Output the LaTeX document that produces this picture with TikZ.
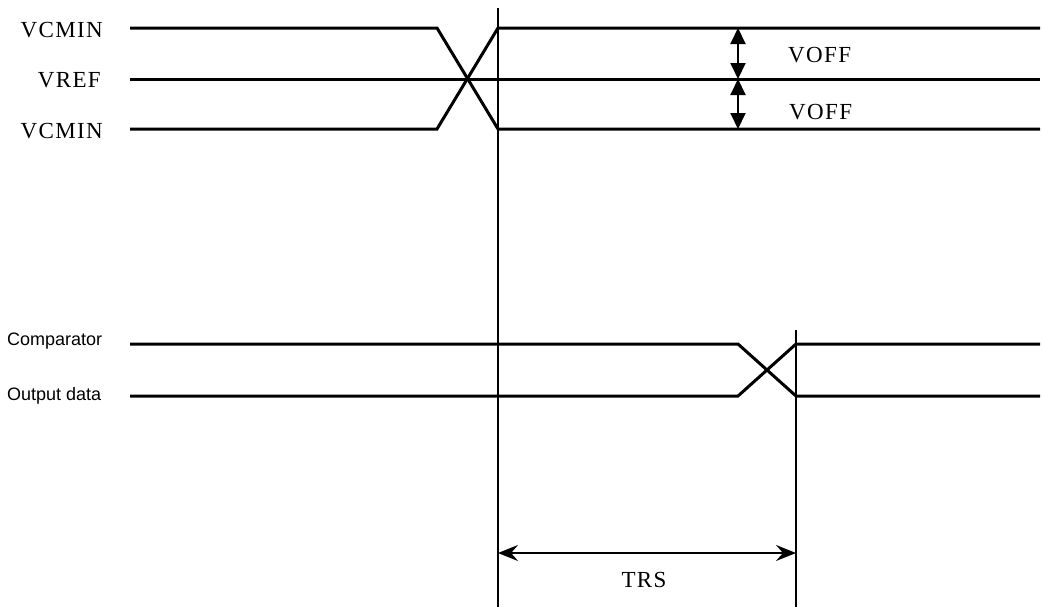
\documentclass[tikz,border=0pt]{standalone}
\usepackage{fontspec}
\setmainfont{Liberation Serif}
\newfontfamily\sigfont[LetterSpace=6]{Liberation Serif}
\newfontfamily\datafont{Liberation Sans}
\usepackage{tikz}
\usetikzlibrary{arrows.meta}

\begin{document}
\begin{tikzpicture}[x=1pt, y=-1pt,
        wave/.style={line width=3pt, line join=miter},
        marker/.style={line width=2pt},
        siglabel/.style={anchor=east, inner sep=0pt, font=\sigfont\fontsize{23}{25}\selectfont},
        datalabel/.style={anchor=west, inner sep=0pt, font=\datafont\fontsize{18}{20}\selectfont}]
            \useasboundingbox (0,0) rectangle (1042,616);

            % Nodes
            \node (VA) [siglabel] at (103,30) {VCMIN};
            \node (VR) [siglabel] at (101,80) {VREF};
            \node (VB) [siglabel] at (103,131) {VCMIN};
            \node (CA) [datalabel] at (7,341) {Comparator};
            \node (CB) [datalabel] at (7,396) {Output data};
            % Input levels
            \coordinate (A0) at (130,28);
            \coordinate (A1) at (437,28);
            \coordinate (A2) at (498,28);
            \coordinate (A3) at (1040,28);
            \coordinate (R0) at (130,79);
            \coordinate (R1) at (1040,79);
            \coordinate (B0) at (130,129);
            \coordinate (B1) at (437,129);
            \coordinate (B2) at (498,129);
            \coordinate (B3) at (1040,129);
            \draw [wave] (A0) -- (A1) -- (B2) -- (B3);
            \draw [wave] (B0) -- (B1) -- (A2) -- (A3);
            \draw [wave] (R0) -- (R1);
            % Comparator output
            \coordinate (C0) at (130,344);
            \coordinate (C1) at (738,344);
            \coordinate (C2) at (796,344);
            \coordinate (C3) at (1040,344);
            \coordinate (D0) at (130,396);
            \coordinate (D1) at (738,396);
            \coordinate (D2) at (796,396);
            \coordinate (D3) at (1040,396);
            \draw [wave] (C0) -- (C1) -- (D2) -- (D3);
            \draw [wave] (D0) -- (D1) -- (C2) -- (C3);
            % Time markers
            \coordinate (T0) at (498,8);
            \coordinate (T1) at (498,607);
            \coordinate (U0) at (796,330);
            \coordinate (U1) at (796,607);
            \draw [marker] (T0) -- (T1);
            \draw [marker] (U0) -- (U1);
            % Offset arrows
            \coordinate (O0) at (738,28);
            \coordinate (O1) at (738,79);
            \coordinate (O2) at (738,129);
            \draw [marker, {Triangle[length=16pt, width=15pt]}-{Triangle[length=16pt, width=15pt]}] (O0) -- (O1);
            \draw [marker, {Triangle[length=16pt, width=15pt]}-{Triangle[length=16pt, width=15pt]}] (O1) -- (O2);
            \node (OA) [siglabel, anchor=west] at (788,55) {VOFF};
            \node (OB) [siglabel, anchor=west] at (789,112) {VOFF};
            % Settling time
            \coordinate (S0) at (498,553);
            \coordinate (S1) at (796,553);
            \draw [marker, {Stealth[length=20pt, width=16pt, inset=7pt]}-{Stealth[length=20pt, width=16pt, inset=7pt]}] (S0) -- (S1);
            \node (TS) [siglabel, anchor=center] at (644,580) {TRS};
        \end{tikzpicture}
\end{document}
